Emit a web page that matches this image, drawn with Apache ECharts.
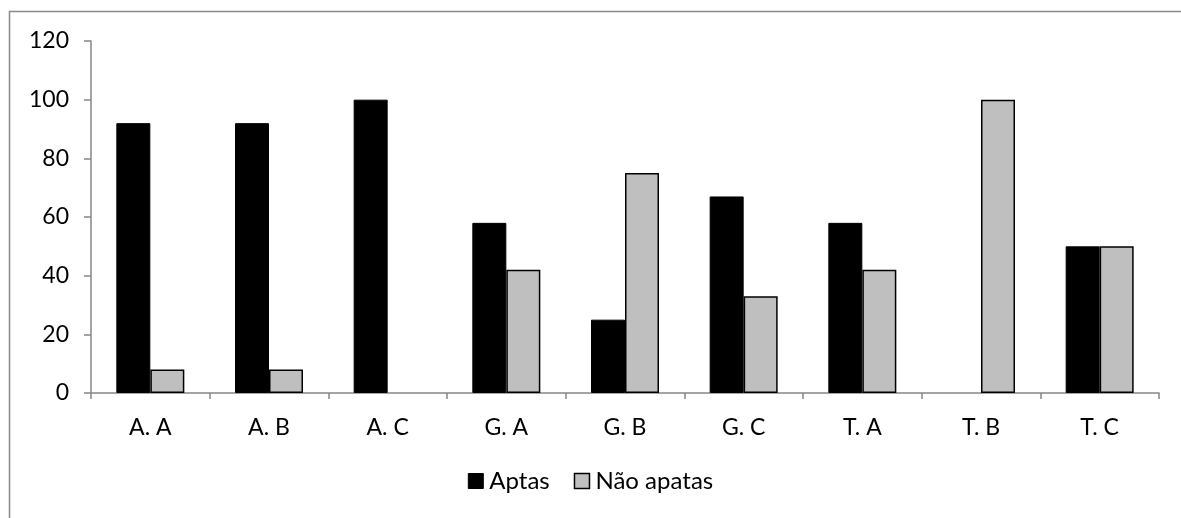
<!DOCTYPE html>
<html><head><meta charset="utf-8">
<script src="https://cdn.jsdelivr.net/npm/echarts@6/dist/echarts.min.js"></script>
<style>html,body{margin:0;padding:0;background:#fff}#c{width:1181px;height:518px}</style>
</head><body><div id="c"></div>
<script>
const categories = ['A. A','A. B','A. C','G. A','G. B','G. C','T. A','T. B','T. C'];
const aptas = [92, 92, 100, 58, 25, 67, 58, 0, 50];
const naoApatas = [8, 8, 0, 42, 75, 33, 42, 100, 50];
const seriesNames = ['Aptas', 'Não apatas'];
const yTicks = {min: 0, max: 120, interval: 20};

const font = 'Lato, "Open Sans", sans-serif';
const withZeroHidden = (arr) => arr.map(v => v === 0 ? {value: v, itemStyle: {borderWidth: 0}} : v);
const chart = echarts.init(document.getElementById('c'), null, {renderer: 'canvas'});
chart.setOption({
  animation: false,
  backgroundColor: '#fff',
  graphic: [{type: 'rect', shape: {x: 9.5, y: 11.5, width: 1200, height: 600}, style: {fill: 'none', stroke: '#898989', lineWidth: 1.5}, silent: true}],
  grid: {left: 91, right: 22, top: 41, bottom: 125},
  legend: {
    bottom: 20, left: 'center', itemWidth: 15, itemHeight: 15, itemGap: 24,
    textStyle: {fontFamily: font, fontSize: 24, color: '#000', padding: [0, 0, 0, 1]},
    data: [
      {name: seriesNames[0], icon: 'rect', itemStyle: {color: '#000', borderColor: '#000', borderWidth: 1}},
      {name: seriesNames[1], icon: 'rect', itemStyle: {color: '#bfbfbf', borderColor: '#000', borderWidth: 1.5}}
    ]
  },
  xAxis: {
    type: 'category', data: categories,
    axisLine: {lineStyle: {color: '#868686', width: 1.5}},
    axisTick: {show: true, length: 6, lineStyle: {color: '#868686', width: 1.5}},
    axisLabel: {fontFamily: font, fontSize: 23, color: '#000', margin: 23}
  },
  yAxis: {
    type: 'value', min: yTicks.min, max: yTicks.max, interval: yTicks.interval,
    axisLine: {show: true, lineStyle: {color: '#868686', width: 1.5}},
    axisTick: {show: true, length: 7, lineStyle: {color: '#868686', width: 1.5}},
    splitLine: {show: false},
    axisLabel: {fontFamily: font, fontSize: 23, color: '#000', margin: 22}
  },
  series: [
    {name: seriesNames[0], type: 'bar', data: withZeroHidden(aptas), barWidth: 34, barGap: '0%',
     itemStyle: {color: '#000', borderColor: '#000', borderWidth: 1}},
    {name: seriesNames[1], type: 'bar', data: withZeroHidden(naoApatas), barWidth: 34,
     itemStyle: {color: '#bfbfbf', borderColor: '#000', borderWidth: 1.5}}
  ]
});
</script></body></html>
